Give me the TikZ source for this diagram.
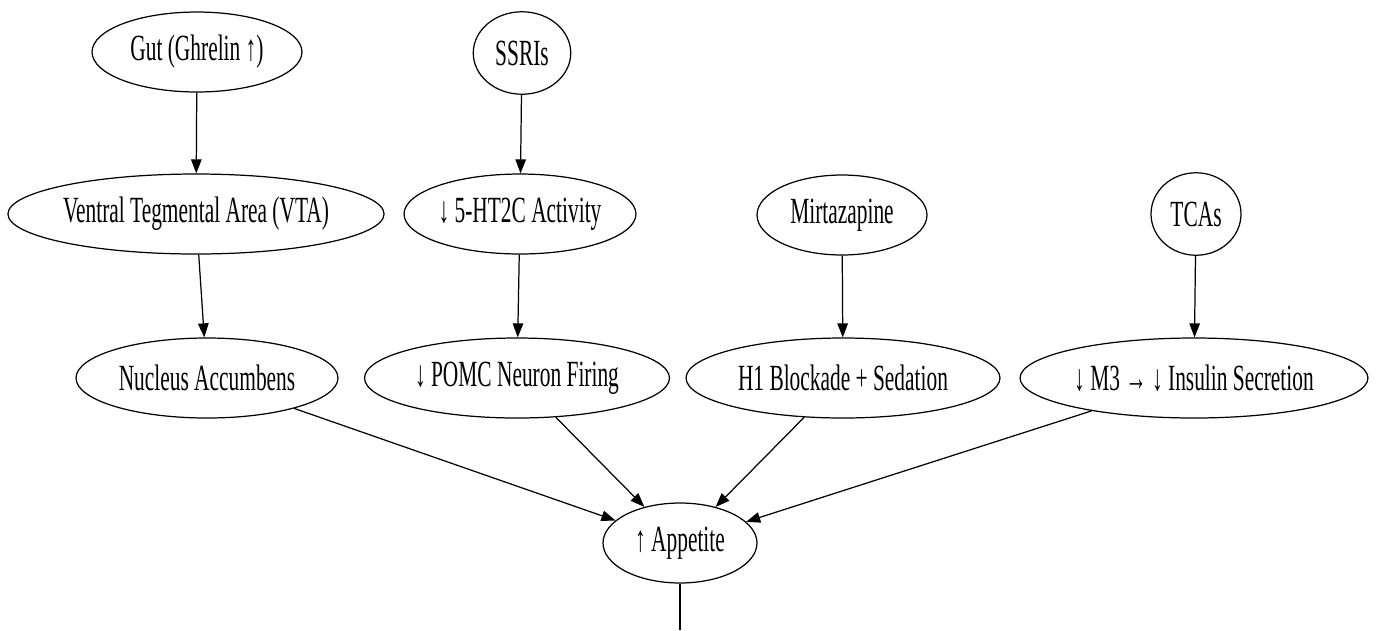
\documentclass[tikz,border=0pt]{standalone}
\usepackage{fontspec}
\setmainfont{Liberation Serif}[FakeStretch=0.58]
\usepackage{tikz}
\usetikzlibrary{shapes.geometric,arrows.meta,positioning}

\begin{document}
\begin{tikzpicture}[x=0.02cm, y=-0.02cm,
    factor/.style={ellipse, draw, line width=0.7pt, inner sep=0pt, minimum height=1.6cm, font=\fontsize{21}{24}\selectfont},
    link/.style={-{Triangle[length=8pt,width=6pt]}, line width=0.7pt}]
    \useasboundingbox (0,0) rectangle (1379,630);
    % top rank
    \node (gut) [factor, minimum width=4.2cm] at (197,52) {Gut (Ghrelin ↑)};
    \node (ssri) [factor, minimum width=1.95cm, minimum height=1.65cm] at (522,53) {SSRIs};
    % second rank
    \node (vta) [factor, minimum width=7.44cm] at (196,214) {Ventral Tegmental Area (VTA)};
    \node (htc) [factor, minimum width=4.64cm] at (520,214) {↓ 5-HT2C Activity};
    \node (mirt) [factor, minimum width=3.4cm] at (842,215) {Mirtazapine};
    \node (tca) [factor, minimum width=1.8cm, minimum height=1.65cm] at (1196,214) {TCAs};
    % third rank
    \node (nacc) [factor, minimum width=5.24cm] at (207,378) {Nucleus Accumbens};
    \node (pomc) [factor, minimum width=6.1cm] at (517,378) {↓ POMC Neuron Firing};
    \node (hone) [factor, minimum width=6.28cm] at (843,378) {H1 Blockade + Sedation};
    \node (mthree) [factor, minimum width=6.96cm] at (1194,378) {↓ M3 → ↓ Insulin Secretion};
    % outcome
    \node (app) [factor, minimum width=3.08cm] at (680,543) {↑ Appetite};
    \coordinate (out) at (680,630);

    \draw [link] (gut) -- (vta);
    \draw [link] (ssri) -- (htc);
    \draw [link] (mirt) -- (hone);
    \draw [link] (tca) -- (mthree);
    \draw [link] (vta) -- (nacc);
    \draw [link] (htc) -- (pomc);
    \draw [link] (nacc) -- (app);
    \draw [link] (pomc) -- (app);
    \draw [link] (hone) -- (app);
    \draw [link] (mthree) -- (app);
    \draw [line width=0.7pt] (app) -- (out);
\end{tikzpicture}
\end{document}
